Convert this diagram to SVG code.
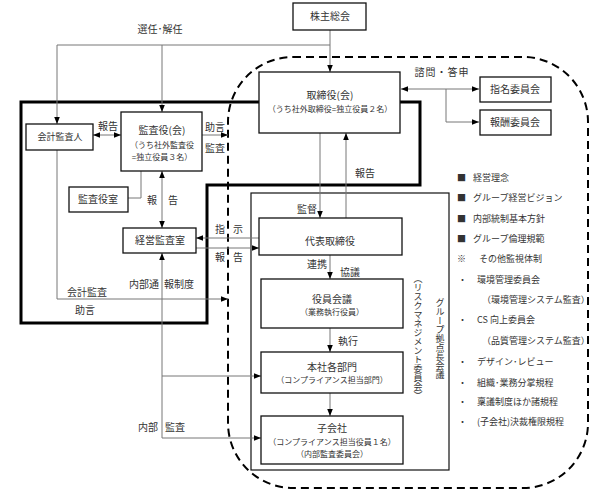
<svg xmlns="http://www.w3.org/2000/svg" width="600" height="500" viewBox="0 0 600 500">
<defs>
<style>
text{font-family:"Noto Sans CJK JP","Noto Sans",sans-serif;fill:#333;font-size:10px}
.c{text-anchor:middle}
.s{font-size:8px}
.l{font-size:9px}
.box{fill:#fff;stroke:#111;stroke-width:1.3}
.ln{fill:none;stroke:#777;stroke-width:1}
.v{writing-mode:vertical-rl;text-anchor:middle;font-size:9px}
</style>
<marker id="ah" viewBox="0 0 10 10" refX="10" refY="5" markerWidth="7" markerHeight="7" markerUnits="userSpaceOnUse" orient="auto-start-reverse"><path d="M0,1 L10,5 L0,9z" fill="#000"/></marker>
</defs>
<rect width="600" height="500" fill="#fff"/>
<g id="frames">
<rect x="228" y="57" width="360" height="431" rx="65" fill="none" stroke="#000" stroke-width="2" stroke-dasharray="8 5"/>
<polyline points="259,102 21,102 21,323 207,323 207,185 420,185 420,102 400,102" fill="none" stroke="#000" stroke-width="3"/>
<rect id="group-meeting" x="251" y="193" width="198" height="277" fill="none" stroke="#111" stroke-width="1.2"/>
</g>
<g id="connectors">
<path class="ln" d="M330,30 V72" marker-end="url(#ah)"/>
<path class="ln" d="M330,45 H57 V124" marker-end="url(#ah)"/>
<path class="ln" d="M162,45 V112" marker-end="url(#ah)"/>
<path class="ln" d="M93,135 H121" marker-start="url(#ah)" marker-end="url(#ah)"/>
<path class="ln" d="M128,198 H141 V171"/>
<path class="ln" d="M162,171 V228" marker-start="url(#ah)" marker-end="url(#ah)"/>
<path class="ln" d="M202,135 H228" marker-end="url(#ah)"/>
<path class="ln" d="M57,150 V299 H228" marker-end="url(#ah)"/>
<path class="ln" d="M259,238 H196" marker-end="url(#ah)"/>
<path class="ln" d="M196,248 H259" marker-end="url(#ah)"/>
<path class="ln" d="M162,438 V253" marker-end="url(#ah)"/>
<path class="ln" d="M162,376 H261" marker-end="url(#ah)"/>
<path class="ln" d="M162,438 H261" marker-end="url(#ah)"/>
<path class="ln" d="M320,133 V218" marker-end="url(#ah)"/>
<path class="ln" d="M346,218 V133" marker-end="url(#ah)"/>
<path class="ln" d="M330,255 V279" marker-end="url(#ah)"/>
<path class="ln" d="M330,328 V352" marker-end="url(#ah)"/>
<path class="ln" d="M330,393 V416" marker-end="url(#ah)"/>
<path class="ln" d="M401,89 H479" marker-start="url(#ah)" marker-end="url(#ah)"/>
<path class="ln" d="M446,89 V122 H479" marker-end="url(#ah)"/>
<text class="c" x="160" y="33">選任･解任</text>
<text class="c" x="442" y="76" style="letter-spacing:1px">諮問・答申</text>
<text class="c" x="108" y="130">報告</text>
<text class="c" x="215" y="131">助言</text>
<text class="c" x="215" y="152">監査</text>
<text class="c" x="152" y="204">報</text>
<text class="c" x="173" y="204">告</text>
<text class="c" x="220" y="233">指</text>
<text class="c" x="238" y="233">示</text>
<text class="c" x="220" y="261">報</text>
<text class="c" x="238" y="261">告</text>
<text class="c" x="87" y="296">会計監査</text>
<text class="c" x="85" y="314">助言</text>
<text x="159" y="288" text-anchor="end">内部通</text>
<text x="164" y="288">報制度</text>
<text x="158" y="431" text-anchor="end">内部</text>
<text x="165" y="431">監査</text>
<text class="c" x="307" y="213">監督</text>
<text class="c" x="365" y="177">報告</text>
<text class="c" x="317" y="268">連携</text>
<text class="c" x="350" y="276">協議</text>
<text class="c" x="348" y="345">執行</text>
</g>
<g id="kabunushi"><rect class="box" x="293" y="3" width="73" height="27"/><text class="c" x="330" y="20">株主総会</text></g>
<g id="torishimariyaku"><rect class="box" x="259" y="72" width="141" height="61"/><text class="c" x="330" y="99">取締役(会)</text><text class="c s" x="330" y="112">（うち社外取締役=独立役員２名）</text></g>
<g id="shimei"><rect class="box" x="480" y="77" width="71" height="25"/><text class="c" x="515" y="93">指名委員会</text></g>
<g id="hoshu"><rect class="box" x="480" y="110" width="71" height="25"/><text class="c" x="515" y="126">報酬委員会</text></g>
<g id="kaikei"><rect class="box" x="26" y="124" width="67" height="26"/><text class="c l" x="60" y="140">会計監査人</text></g>
<g id="kansayaku"><rect class="box" x="121" y="112" width="81" height="59"/><text class="c" x="162" y="134">監査役(会)</text><text class="c s" x="162" y="148">（うち社外監査役</text><text class="c s" x="162" y="160">=独立役員３名）</text></g>
<g id="kansayakushitsu"><rect class="box" x="69" y="187" width="59" height="25"/><text class="c" x="98" y="203">監査役室</text></g>
<g id="keiei-kansa"><rect class="box" x="123" y="228" width="73" height="25"/><text class="c" x="160" y="244">経営監査室</text></g>
<g id="daihyo"><rect class="box" x="259" y="218" width="143" height="37"/><text class="c" x="330" y="245">代表取締役</text></g>
<g id="yakuin"><rect class="box" x="261" y="279" width="142" height="49"/><text class="c" x="332" y="303">役員会議</text><text class="c s" x="332" y="315">（業務執行役員）</text></g>
<g id="honsha"><rect class="box" x="261" y="352" width="142" height="41"/><text class="c" x="332" y="371">本社各部門</text><text class="c s" x="332" y="383">（コンプライアンス担当部門）</text></g>
<g id="kogaisha"><rect class="box" x="261" y="416" width="142" height="48"/><text class="c" x="332" y="432">子会社</text><text class="c s" x="332" y="445">（コンプライアンス担当役員１名）</text><text class="c s" x="332" y="457">（内部監査委員会）</text></g>
<g id="vertical-labels">
<text class="v" x="418" y="337">（リスクマネジメント委員会）</text>
<text class="v" x="440" y="339">グループ拠点長会議</text>
</g>
<g id="list" class="l">
<text class="l" x="457" y="181">■</text><text class="l" x="473" y="181">経営理念</text>
<text class="l" x="457" y="201">■</text><text class="l" x="473" y="201">グループ経営ビジョン</text>
<text class="l" x="457" y="222">■</text><text class="l" x="473" y="222">内部統制基本方針</text>
<text class="l" x="457" y="242">■</text><text class="l" x="473" y="242">グループ倫理規範</text>
<text class="l" x="457" y="262">※</text><text class="l" x="479" y="262">その他監視体制</text>
<text class="l" x="458" y="283">・</text><text class="l" x="477" y="283">環境管理委員会</text>
<text class="l" x="482" y="303">（環境管理システム監査）</text>
<text class="l" x="458" y="323">・</text><text class="l" x="477" y="323">CS 向上委員会</text>
<text class="l" x="482" y="344">（品質管理システム監査）</text>
<text class="l" x="458" y="365">・</text><text class="l" x="477" y="365">デザイン･レビュー</text>
<text class="l" x="458" y="386">・</text><text class="l" x="477" y="386">組織･業務分掌規程</text>
<text class="l" x="458" y="405">・</text><text class="l" x="477" y="405">稟議制度ほか諸規程</text>
<text class="l" x="458" y="425">・</text><text class="l" x="477" y="425">(子会社)決裁権限規程</text>
</g>
</svg>
